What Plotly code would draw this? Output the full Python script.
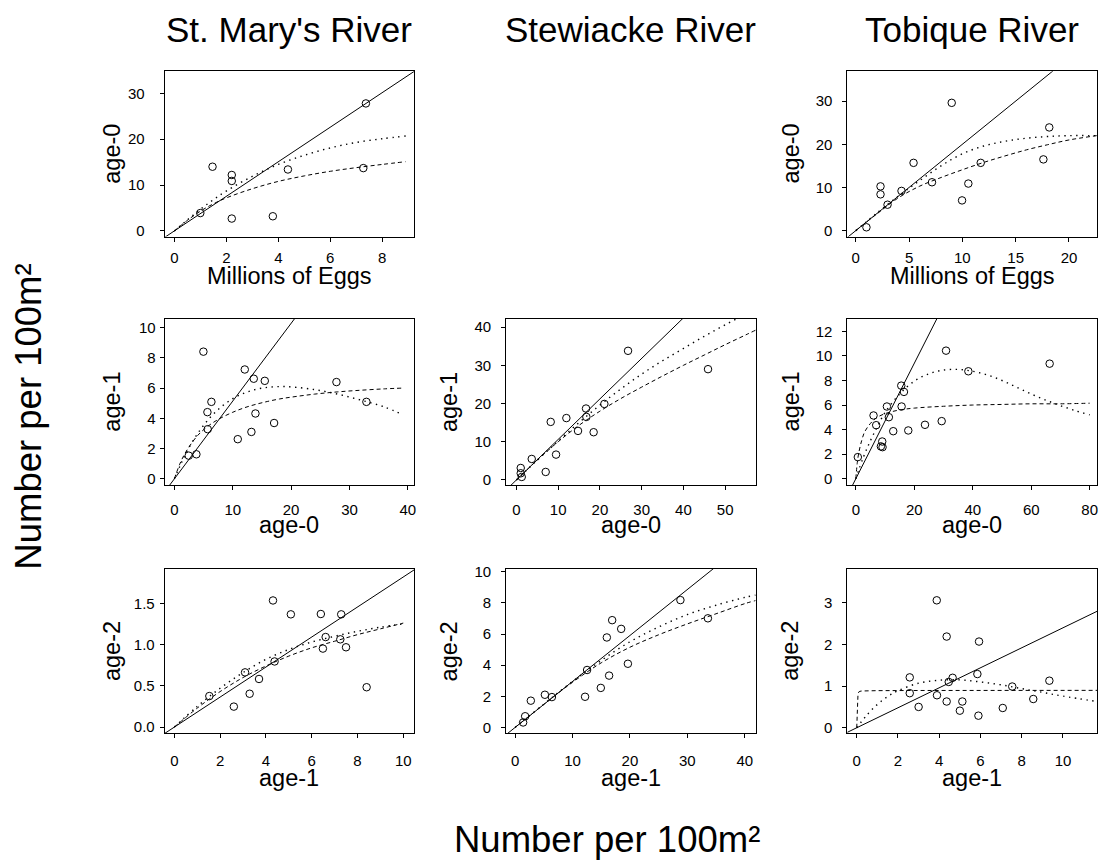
import plotly.graph_objects as go

W, H = 1103, 867
FONT = "Liberation Sans, Arial, Helvetica, sans-serif"

# ---------------- data ----------------
# St. Mary's: eggs -> age-0
stm_e_x = [1.0, 1.47, 2.21, 2.21, 2.21, 3.79, 4.37, 7.27, 7.37]
stm_e_y = [3.9, 14.0, 12.2, 10.9, 2.7, 3.2, 13.4, 13.7, 27.8]
stm_e_fx = [0, 0.5, 1, 1.5, 2, 3, 4, 5, 6, 7, 8, 8.9]
stm_e_dot = [0, 2.4, 4.7, 6.8, 8.7, 11.9, 14.5, 16.5, 18.1, 19.3, 20.1, 20.7]
stm_e_dash = [0, 2.3, 4.3, 5.9, 7.2, 9.2, 10.8, 12.0, 13.0, 13.8, 14.5, 15.1]
stm_e_lx = [-1, 10]
stm_e_ly = [-3.77, 37.7]

# Tobique: eggs -> age-0
tob_e_x = [1.0, 2.32, 2.32, 2.98, 4.29, 5.42, 7.15, 9.0, 9.97, 10.56, 11.72, 17.6, 18.15]
tob_e_y = [0.77, 10.25, 8.4, 6.0, 9.2, 15.7, 11.2, 29.6, 7.0, 10.9, 15.7, 16.5, 23.9]
tob_e_fx = [0, 2, 4, 6, 8, 10, 12, 14, 16, 18, 20, 22.6]
tob_e_dot = [0, 4.1, 8.0, 11.6, 15.0, 17.8, 19.6, 20.7, 21.4, 21.8, 22.0, 22.0]
tob_e_dash = [0, 3.9, 7.6, 10.3, 12.3, 14.1, 15.8, 17.3, 18.7, 19.9, 21.0, 22.0]
tob_e_lx = [-1, 23]
tob_e_ly = [-2, 46]

# St. Mary's: age-0 -> age-1
stm_0_x = [2.46, 3.77, 4.97, 5.66, 5.71, 6.34, 10.86, 12.06, 13.2, 13.6, 13.89, 15.49, 17.09, 27.77, 32.9]
stm_0_y = [1.53, 1.62, 8.41, 4.41, 3.28, 5.09, 2.62, 7.23, 3.1, 6.62, 4.32, 6.48, 3.69, 6.4, 5.09]
stm_0_fx = [0, 1, 2, 4, 6, 8, 10, 12, 14, 16, 18, 20, 24, 28, 32, 36, 39.1]
stm_0_dot = [0, 0.88, 1.7, 3.0, 4.0, 4.75, 5.3, 5.67, 5.92, 6.05, 6.1, 6.08, 5.9, 5.6, 5.2, 4.75, 4.25]
stm_0_dash = [0, 1.04, 1.8, 2.87, 3.55, 4.03, 4.4, 4.7, 4.93, 5.12, 5.28, 5.4, 5.6, 5.75, 5.86, 5.95, 6.0]
stm_0_lx = [-2, 42]
stm_0_ly = [-1.03, 21.6]

# Stewiacke: age-0 -> age-1
stw_0_x = [1.04, 1.04, 1.28, 3.67, 7.02, 8.22, 9.5, 11.97, 14.76, 16.68, 16.76, 18.5, 21.07, 26.74, 45.9]
stw_0_y = [3.14, 1.75, 0.79, 5.5, 2.1, 15.2, 6.64, 16.2, 12.84, 18.7, 16.5, 12.5, 19.9, 33.8, 29.0]
stw_0_fx = [0, 5, 10, 15, 20, 25, 30, 35, 40, 45, 50, 55, 57.3]
stw_0_dot = [0, 5.2, 10.2, 15.0, 19.6, 23.8, 27.7, 31.2, 34.4, 37.6, 40.6, 43.4, 44.6]
stw_0_dash = [0, 5.2, 10.0, 14.3, 18.0, 21.3, 24.3, 27.2, 30.0, 32.7, 35.4, 38.0, 39.2]
stw_0_lx = [-3, 58]
stw_0_ly = [-3.18, 61.5]

# Tobique: age-0 -> age-1
tob_0_x = [0.69, 6.06, 6.97, 8.57, 9.03, 9.14, 10.63, 11.3, 12.8, 15.54, 15.66, 16.46, 17.94,
           23.66, 29.37, 30.86, 38.5, 66.3]
tob_0_y = [1.76, 5.15, 4.36, 2.63, 3.03, 2.57, 5.88, 5.01, 3.87, 7.58, 5.88, 7.07, 3.93,
           4.39, 4.69, 10.43, 8.75, 9.37]
tob_0_dotx = [0, 2.5, 5, 7.5, 10, 15, 20, 25, 30, 35, 40, 45, 50, 55, 60, 65, 70, 75, 80]
tob_0_dot = [0, 1.7, 3.1, 4.3, 5.4, 6.9, 7.95, 8.55, 8.85, 8.9, 8.75, 8.45, 8.0, 7.45, 6.9,
             6.4, 5.95, 5.55, 5.2]
tob_0_dashx = [0, 0.5, 1, 2, 3, 5, 7, 10, 15, 20, 30, 40, 50, 60, 70, 80]
tob_0_dash = [0, 1.3, 2.1, 3.1, 3.8, 4.5, 4.95, 5.3, 5.6, 5.75, 5.9, 6.0, 6.05, 6.1, 6.1, 6.15]
tob_0_lx = [-3, 30]
tob_0_ly = [-1.41, 14.1]

# St. Mary's: age-1 -> age-2
stm_1_x = [1.53, 2.6, 3.09, 3.29, 3.7, 4.31, 4.38, 5.09, 6.4, 6.49, 6.61, 7.25, 7.29, 7.5, 8.4]
stm_1_y = [0.376, 0.248, 0.663, 0.404, 0.583, 1.534, 0.795, 1.366, 1.37, 0.951, 1.091,
           1.063, 1.366, 0.967, 0.483]
stm_1_fx = [0, 1, 2, 3, 4, 5, 6, 7, 8, 9, 10]
stm_1_dot = [0, 0.25, 0.47, 0.66, 0.82, 0.94, 1.03, 1.1, 1.16, 1.21, 1.25]
stm_1_dash = [0, 0.23, 0.43, 0.6, 0.74, 0.86, 0.96, 1.04, 1.12, 1.19, 1.26]
stm_1_lx = [-1, 11]
stm_1_ly = [-0.182, 2.0]

# Stewiacke: age-1 -> age-2
stw_1_x = [1.4, 1.75, 2.74, 5.19, 6.41, 12.19, 12.54, 14.93, 15.98, 16.38, 16.91, 18.48, 19.65, 28.8, 33.59]
stw_1_y = [0.32, 0.72, 1.72, 2.1, 1.95, 1.97, 3.69, 2.54, 5.78, 3.33, 6.89, 6.33, 4.09, 8.18, 7.01]
stw_1_fx = [0, 5, 10, 15, 20, 25, 30, 35, 40, 41.9]
stw_1_dot = [0, 1.5, 2.95, 4.3, 5.5, 6.45, 7.25, 7.85, 8.35, 8.5]
stw_1_dash = [0, 1.48, 2.9, 4.15, 5.15, 5.95, 6.65, 7.3, 7.95, 8.15]
stw_1_lx = [-2, 42]
stw_1_ly = [-0.59, 12.4]

# Tobique: age-1 -> age-2
tob_1_x = [2.57, 2.57, 3.0, 3.88, 3.89, 4.36, 4.36, 4.46, 4.65, 5.0, 5.12, 5.85, 5.9, 5.93,
           7.08, 7.54, 8.56, 9.34]
tob_1_y = [1.21, 0.83, 0.5, 3.06, 0.78, 2.19, 0.63, 1.10, 1.2, 0.41, 0.63, 1.29, 0.29, 2.07,
           0.475, 0.99, 0.69, 1.13]
tob_1_dotx = [0, 0.5, 1, 1.5, 2, 3, 4, 5, 6, 7, 8, 9, 10, 11.65]
tob_1_dot = [0, 0.31, 0.56, 0.75, 0.89, 1.07, 1.14, 1.15, 1.1, 1.03, 0.94, 0.85, 0.76, 0.63]
tob_1_dashx = [0, 0.03, 0.06, 0.1, 0.15, 0.25, 0.5, 1, 3, 6, 9, 11.65]
tob_1_dash = [0, 0.6, 0.8, 0.86, 0.875, 0.883, 0.888, 0.891, 0.895, 0.897, 0.898, 0.898]
tob_1_lx = [-1, 12]
tob_1_ly = [-0.24, 2.88]

col_titles = ["St. Mary's River", "Stewiacke River", "Tobique River"]
outer_label = "Number per 100m²"

# ---------------- layout geometry (pixels) ----------------
col_px = [(165, 415), (507, 757), (849, 1099)]
row_px = [(66, 233), (316, 484), (569, 735)]


def fx(px):
    return px / W


def fy(py):
    return 1 - py / H


panels = [
    dict(r=0, c=0, px=stm_e_x, py=stm_e_y, dotx=stm_e_fx, dot=stm_e_dot, dashx=stm_e_fx, dash=stm_e_dash,
         lx=stm_e_lx, ly=stm_e_ly, xr=[-0.37, 9.23], yr=[-1.23, 34.8],
         xt=[0, 2, 4, 6, 8], yt=[0, 10, 20, 30], xlab="Millions of Eggs", ylab="age-0"),
    dict(r=0, c=2, px=tob_e_x, py=tob_e_y, dotx=tob_e_fx, dot=tob_e_dot, dashx=tob_e_fx, dash=tob_e_dash,
         lx=tob_e_lx, ly=tob_e_ly, xr=[-0.78, 22.63], yr=[-1.38, 36.9],
         xt=[0, 5, 10, 15, 20], yt=[0, 10, 20, 30], xlab="Millions of Eggs", ylab="age-0"),
    dict(r=1, c=0, px=stm_0_x, py=stm_0_y, dotx=stm_0_fx, dot=stm_0_dot, dashx=stm_0_fx, dash=stm_0_dash,
         lx=stm_0_lx, ly=stm_0_ly, xr=[-1.66, 41.1], yr=[-0.41, 10.59],
         xt=[0, 10, 20, 30, 40], yt=[0, 2, 4, 6, 8, 10], xlab="age-0", ylab="age-1"),
    dict(r=1, c=1, px=stw_0_x, py=stw_0_y, dotx=stw_0_fx, dot=stw_0_dot, dashx=stw_0_fx, dash=stw_0_dash,
         lx=stw_0_lx, ly=stw_0_ly, xr=[-2.47, 57.3], yr=[-1.31, 42.2],
         xt=[0, 10, 20, 30, 40, 50], yt=[0, 10, 20, 30, 40], xlab="age-0", ylab="age-1"),
    dict(r=1, c=2, px=tob_0_x, py=tob_0_y, dotx=tob_0_dotx, dot=tob_0_dot, dashx=tob_0_dashx, dash=tob_0_dash,
         lx=tob_0_lx, ly=tob_0_ly, xr=[-2.86, 82.5], yr=[-0.51, 13.03],
         xt=[0, 20, 40, 60, 80], yt=[0, 2, 4, 6, 8, 10, 12], xlab="age-0", ylab="age-1"),
    dict(r=2, c=0, px=stm_1_x, py=stm_1_y, dotx=stm_1_fx, dot=stm_1_dot, dashx=stm_1_fx, dash=stm_1_dash,
         lx=stm_1_lx, ly=stm_1_ly, xr=[-0.42, 10.48], yr=[-0.076, 1.914],
         xt=[0, 2, 4, 6, 8, 10], yt=[0, 0.5, 1.0, 1.5], ytt=["0.0", "0.5", "1.0", "1.5"],
         xlab="age-1", ylab="age-2"),
    dict(r=2, c=1, px=stw_1_x, py=stw_1_y, dotx=stw_1_fx, dot=stw_1_dot, dashx=stw_1_fx, dash=stw_1_dash,
         lx=stw_1_lx, ly=stw_1_ly, xr=[-1.57, 41.9], yr=[-0.38, 10.17],
         xt=[0, 10, 20, 30, 40], yt=[0, 2, 4, 6, 8, 10], xlab="age-1", ylab="age-2"),
    dict(r=2, c=2, px=tob_1_x, py=tob_1_y, dotx=tob_1_dotx, dot=tob_1_dot, dashx=tob_1_dashx, dash=tob_1_dash,
         lx=tob_1_lx, ly=tob_1_ly, xr=[-0.45, 11.65], yr=[-0.135, 3.81],
         xt=[0, 2, 4, 6, 8, 10], yt=[0, 1, 2, 3], xlab="age-1", ylab="age-2", dash_linear=True),
]

# per-row / per-col label offsets (px)
x_standoff = [3, 7, 10]
y_standoff = {(0, 0): 12, (1, 0): 1, (2, 0): 2}
y_standoff_default = 7
xlab_baseline = [281, 532, 788]
ylab_offset = [53, 57, 57]
AXT = 23.5

fig = go.Figure()
annotations = []
layout_axes = {}

for i, p in enumerate(panels):
    k = i + 1
    xs = "x" if k == 1 else f"x{k}"
    ys = "y" if k == 1 else f"y{k}"
    x0, x1 = col_px[p["c"]]
    y0, y1 = row_px[p["r"]]

    fig.add_trace(go.Scatter(x=p["lx"], y=p["ly"], mode="lines", xaxis=xs, yaxis=ys,
                             line=dict(color="black", width=1), showlegend=False, hoverinfo="skip"))
    fig.add_trace(go.Scatter(x=p["dotx"], y=p["dot"], mode="lines", xaxis=xs, yaxis=ys,
                             line=dict(color="black", width=1.4, dash="1.4px,4.5px", shape="spline"),
                             showlegend=False, hoverinfo="skip"))
    fig.add_trace(go.Scatter(x=p["dashx"], y=p["dash"], mode="lines", xaxis=xs, yaxis=ys,
                             line=dict(color="black", width=1, dash="4px,3px",
                                       shape="linear" if p.get("dash_linear") else "spline"),
                             showlegend=False, hoverinfo="skip"))
    fig.add_trace(go.Scatter(x=p["px"], y=p["py"], mode="markers", xaxis=xs, yaxis=ys,
                             marker=dict(symbol="circle-open", size=7.5, color="black",
                                         line=dict(width=1, color="black")),
                             showlegend=False))

    common = dict(showline=True, mirror=True, linecolor="black", linewidth=1,
                  ticks="outside", ticklen=4, tickwidth=1, tickcolor="black",
                  showgrid=False, zeroline=False,
                  tickfont=dict(family=FONT, size=15, color="black"))
    xa = dict(common, domain=[fx(x0), fx(x1)], anchor=ys, range=p["xr"], tickvals=p["xt"],
              ticklabelstandoff=x_standoff[p["r"]])
    ya = dict(common, domain=[fy(y1), fy(y0)], anchor=xs, range=p["yr"], tickvals=p["yt"],
              ticklabelstandoff=y_standoff.get((p["r"], p["c"]), y_standoff_default))
    if "ytt" in p:
        ya["ticktext"] = p["ytt"]
    layout_axes["xaxis" if k == 1 else f"xaxis{k}"] = xa
    layout_axes["yaxis" if k == 1 else f"yaxis{k}"] = ya

    # axis titles
    annotations.append(dict(text=p["xlab"], x=fx((x0 + x1) / 2), y=fy(xlab_baseline[p["r"]] - 8),
                            xref="paper", yref="paper", xanchor="center", yanchor="middle",
                            showarrow=False, font=dict(family=FONT, size=AXT, color="black")))
    annotations.append(dict(text=p["ylab"], x=fx(x0 - ylab_offset[p["c"]]), y=fy((y0 + y1) / 2),
                            xref="paper", yref="paper", xanchor="center", yanchor="middle",
                            textangle=-90, showarrow=False,
                            font=dict(family=FONT, size=AXT, color="black")))

for c, t in enumerate(col_titles):
    x0, x1 = col_px[c]
    annotations.append(dict(text=t, x=fx((x0 + x1) / 2), y=fy(24), xref="paper", yref="paper",
                            xanchor="center", yanchor="middle", showarrow=False,
                            font=dict(family=FONT, size=35, color="black")))

annotations.append(dict(text=outer_label, x=fx(608), y=fy(842), xref="paper", yref="paper",
                        xanchor="center", yanchor="middle", showarrow=False,
                        font=dict(family=FONT, size=36.5, color="black")))
annotations.append(dict(text=outer_label, x=fx(29), y=fy(415), xref="paper", yref="paper",
                        xanchor="center", yanchor="middle", textangle=-90, showarrow=False,
                        font=dict(family=FONT, size=36.5, color="black")))

fig.update_layout(width=W, height=H, margin=dict(l=0, r=0, t=0, b=0),
                  paper_bgcolor="white", plot_bgcolor="white",
                  showlegend=False, annotations=annotations, **layout_axes)

fig.write_html(
    "out.html",
    config={"displayModeBar": False, "staticPlot": True},
    post_script=(
        "document.documentElement.style.margin='0';"
        "document.body.style.margin='0';document.body.style.padding='0';"
        "document.body.style.overflow='hidden';"
        "var d=document.getElementsByClassName('plotly-graph-div')[0];"
        "d.style.position='absolute';d.style.left='0px';d.style.top='0px';"
    ),
)
